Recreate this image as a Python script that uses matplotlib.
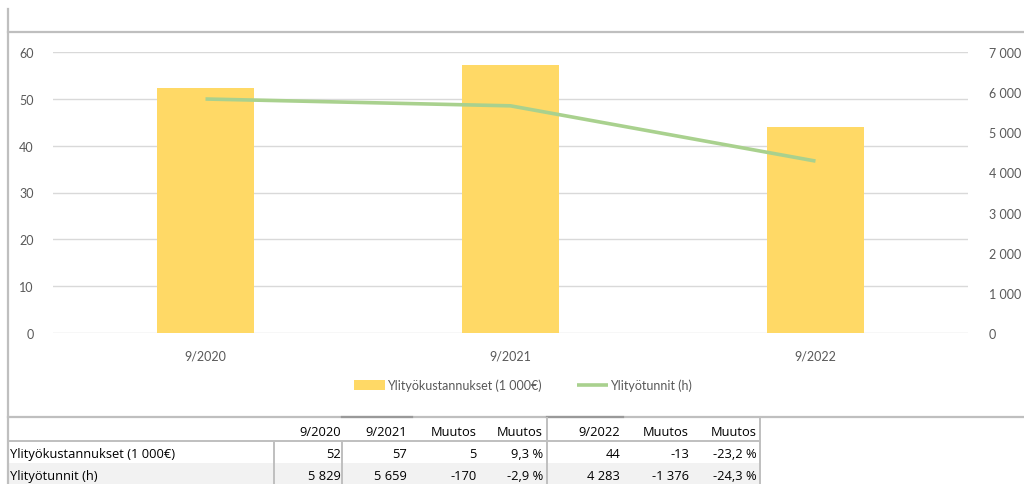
import matplotlib.pyplot as plt
from matplotlib.lines import Line2D
from matplotlib.patches import Rectangle
import numpy as np

# --- data ---
periods = ["9/2020", "9/2021", "9/2022"]
costs = [52.3, 57.2, 43.9]          # Ylityökustannukset (1 000€)
hours = [5829, 5659, 4283]          # Ylityötunnit (h)

table_header = ["9/2020", "9/2021", "Muutos", "Muutos", "9/2022", "Muutos", "Muutos"]
table_rows = ["Ylityökustannukset (1 000€)", "Ylityötunnit (h)"]
table_cells = [
    ["52", "57", "5", "9,3 %", "44", "-13", "-23,2 %"],
    ["5 829", "5 659", "-170", "-2,9 %", "4 283", "-1 376", "-24,3 %"],
]

W, H = 1024, 485
BAR = "#FFD966"
LINE = "#A9D18E"
TXT = "#595959"
GRID = "#D9D9D9"
FRAME = "#BFBFBF"


def fx(x):
    return x / W


def fy(y):
    return 1 - y / H


fig = plt.figure(figsize=(W / 100, H / 100), dpi=100)
fig.patch.set_facecolor("white")

# chart frame
fig.add_artist(Line2D([fx(8), fx(8)], [fy(10), fy(485)], color=FRAME, lw=1.6))
fig.add_artist(Line2D([fx(8), fx(1024)], [fy(33), fy(33)], color=FRAME, lw=1.6))
fig.add_artist(Line2D([fx(8), fx(1024)], [fy(418), fy(418)], color=FRAME, lw=1.6))

ax = fig.add_axes([fx(53), fy(334), (968 - 53) / W, (334 - 53) / H])
x = np.arange(len(periods))
bars = ax.bar(x, costs, width=0.318, color=BAR, zorder=2,
              label="Ylityökustannukset (1 000€)")
ax.set_xlim(-0.5, len(periods) - 0.5)
ax.set_ylim(0, 60)
ax.set_yticks(range(0, 61, 10))
ax.set_xticks(x)
ax.set_xticklabels(periods)
ax.grid(axis="y", color=GRID, lw=1, zorder=0)
for s in ax.spines.values():
    s.set_visible(False)
ax.tick_params(axis="both", length=0, labelsize=9, colors=TXT)
ax.tick_params(axis="y", pad=14)
ax.tick_params(axis="x", pad=12)
for t in ax.get_xticklabels() + ax.get_yticklabels():
    t.set_fontfamily("Lato")

ax2 = ax.twinx()
ln, = ax2.plot(x, hours, color=LINE, lw=2.6, solid_capstyle="butt",
               label="Ylityötunnit (h)", zorder=3)
ax2.set_ylim(0, 7000)
ax2.set_yticks(range(0, 7001, 1000))
ax2.set_yticklabels([f"{v:,}".replace(",", " ") for v in range(0, 7001, 1000)])
for s in ax2.spines.values():
    s.set_visible(False)
ax2.tick_params(axis="y", length=0, labelsize=9, colors=TXT, pad=15)
for t in ax2.get_yticklabels():
    t.set_fontfamily("Lato")

leg = fig.legend([bars, ln], ["Ylityökustannukset (1 000€)", "Ylityötunnit (h)"],
                 loc="center", bbox_to_anchor=(fx(523), fy(386)), ncol=2,
                 frameon=False, handlelength=2.5, handleheight=0.8,
                 handletextpad=0.15, columnspacing=2.8,
                 prop={"family": "Lato", "size": 9})
for t in leg.get_texts():
    t.set_color(TXT)

# --- table ---
fig.add_artist(Rectangle((fx(8), fy(485)), fx(760) - fx(8), fy(464) - fy(485),
                         facecolor="#F2F2F2", edgecolor="none"))
fig.add_artist(Line2D([fx(8), fx(760)], [fy(442), fy(442)], color=FRAME, lw=1.4))
# darker top segments
for x0, x1 in [(342, 412), (547, 623)]:
    fig.add_artist(Line2D([fx(x0), fx(x1)], [fy(418), fy(418)], color="#999999", lw=1.6))
for xv, y0 in [(274, 443), (342, 443), (547, 419), (760, 419)]:
    fig.add_artist(Line2D([fx(xv), fx(xv)], [fy(y0), fy(485)], color=FRAME, lw=1.4))

col_right = [341, 407, 477, 543, 620, 689, 757]
tfont = {"family": "Open Sans", "size": 9.3, "color": "black"}
for xr, h in zip(col_right, table_header):
    fig.text(fx(xr), fy(432), h, ha="right", va="center", **tfont)
for r, (lab, cells) in enumerate(zip(table_rows, table_cells)):
    yc = 455 + r * 22
    fig.text(fx(10), fy(yc), lab, ha="left", va="center", **tfont)
    for xr, c in zip(col_right, cells):
        fig.text(fx(xr), fy(yc), c, ha="right", va="center", **tfont)

fig.savefig("out.png", dpi=100)
